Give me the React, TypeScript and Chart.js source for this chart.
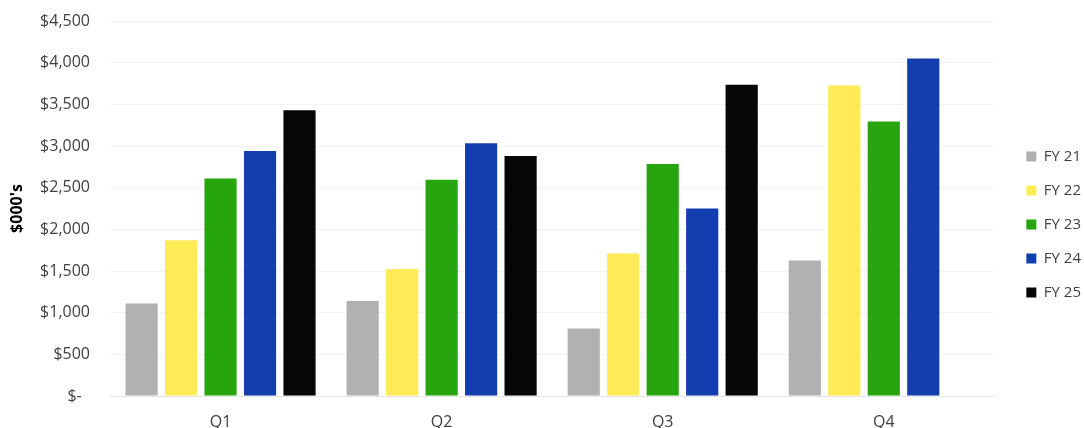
import React, { useEffect, useRef } from "react";
import { Chart, registerables } from "chart.js";

Chart.register(...registerables);

const categories = ["Q1", "Q2", "Q3", "Q4"];
const seriesNames = ["FY 21", "FY 22", "FY 23", "FY 24", "FY 25"];
const fy21 = [1110, 1140, 810, 1625];
const fy22 = [1870, 1525, 1710, 3725];
const fy23 = [2610, 2595, 2785, 3295];
const fy24 = [2940, 3032, 2250, 4050];
const fy25: (number | null)[] = [3430, 2880, 3735, null];
const seriesColors = ["#b1b1b1", "#ffeb55", "#27a50e", "#123eae", "#060606"];
const yTickValues = [0, 500, 1000, 1500, 2000, 2500, 3000, 3500, 4000, 4500];
const yTickLabels = ["$-  ", "$500", "$1,000", "$1,500", "$2,000", "$2,500", "$3,000", "$3,500", "$4,000", "$4,500"];
const yTitle = "$000's";

export default function App() {
  const ref = useRef<HTMLCanvasElement | null>(null);

  useEffect(() => {
    if (!ref.current) return;
    const seriesValues = [fy21, fy22, fy23, fy24, fy25];
    const chart = new Chart(ref.current, {
      type: "bar",
      data: {
        labels: categories,
        datasets: seriesNames.map((name, i) => ({
          label: name,
          data: seriesValues[i],
          backgroundColor: seriesColors[i],
          borderWidth: 0,
          categoryPercentage: 0.893,
          barPercentage: 0.815,
        })),
      },
      options: {
        animation: false,
        responsive: true,
        maintainAspectRatio: false,
        layout: { padding: { top: 21, right: -7, bottom: 0, left: 0 } },
        plugins: {
          tooltip: { enabled: false },
          legend: {
            position: "right",
            align: "center",
            labels: {
              boxWidth: 10,
              boxHeight: 10,
              padding: 19,
              color: "#404040",
              font: { family: "'Open Sans'", size: 15 },
            },
          },
        },
        scales: {
          x: {
            grid: { display: false, drawTicks: false },
            border: { display: true, color: "#e3e3e3", width: 1 },
            ticks: {
              color: "#404040",
              padding: 17,
              font: { family: "'Open Sans'", size: 16 },
            },
            afterFit: (s: any) => {
              s.height = 32;
            },
          },
          y: {
            min: 0,
            max: 4500,
            afterBuildTicks: (s: any) => {
              s.ticks = yTickValues.map((v) => ({ value: v }));
            },
            grid: { color: "#f3f3f3", drawTicks: false },
            border: { display: false },
            ticks: {
              color: "#404040",
              padding: 20,
              font: { family: "'Open Sans'", size: 16 },
              callback: (_v: any, i: number) => yTickLabels[i],
            },
            title: {
              display: true,
              text: yTitle,
              color: "#000000",
              padding: { top: 8, bottom: 0 },
              font: { family: "'Open Sans'", size: 16, weight: "bold" },
            },
            afterFit: (s: any) => {
              s.width = 110;
              s.paddingTop = 9;
              s.paddingBottom = 9;
            },
          },
          spacer: {
            type: "linear",
            position: "right",
            display: true,
            grid: { display: false, drawTicks: false },
            border: { display: false },
            ticks: { display: false },
            afterFit: (s: any) => {
              s.width = 13;
              s.paddingTop = 0;
              s.paddingBottom = 0;
            },
          },
        },
      },
    });
    return () => chart.destroy();
  }, []);

  return (
    <div style={{ position: "fixed", left: 0, top: 0, width: 1084, height: 428, background: "#ffffff" }}>
      <canvas ref={ref} />
    </div>
  );
}
